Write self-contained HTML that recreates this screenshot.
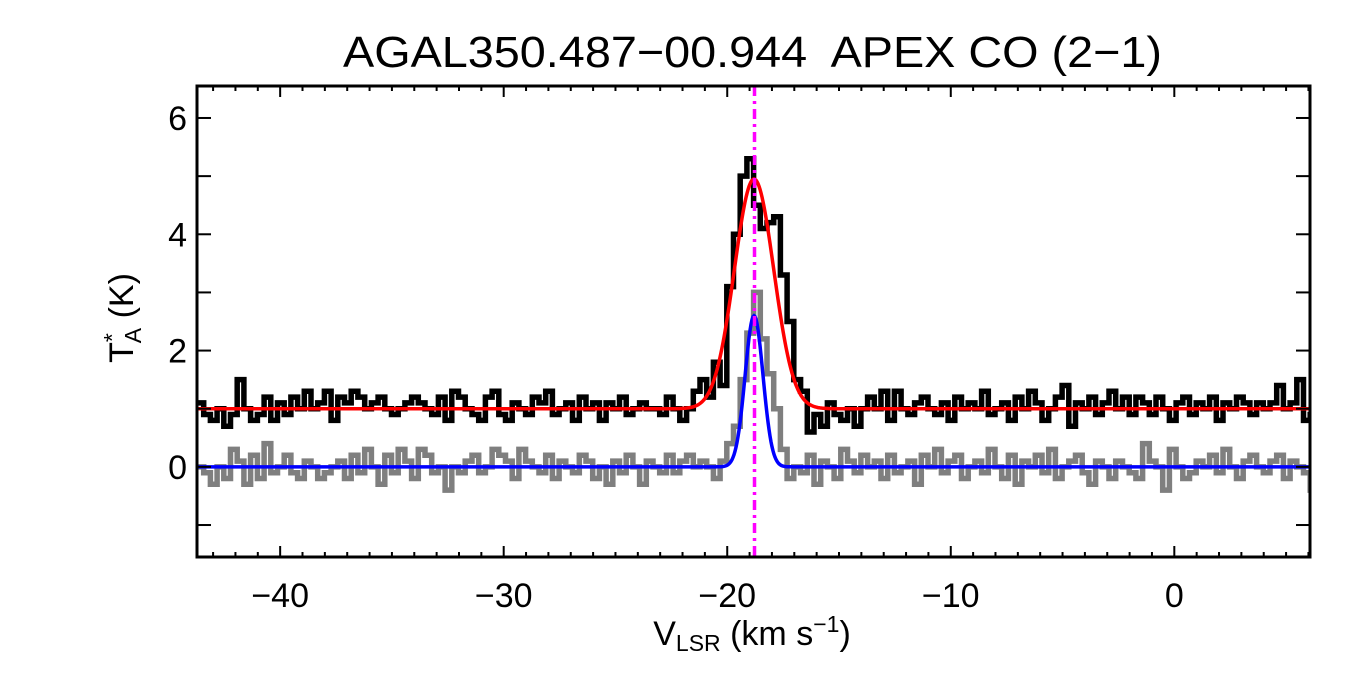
<!DOCTYPE html>
<html><head><meta charset="utf-8"><style>
html,body{margin:0;padding:0;background:#fff;width:1350px;height:675px;overflow:hidden}
svg text{font-family:"Liberation Sans",Arial,sans-serif;fill:#000}
</style></head><body>
<svg id="chart" width="1350" height="675" viewBox="0 0 1350 675" xmlns="http://www.w3.org/2000/svg">
<text x="343" y="67" font-size="44" textLength="819" lengthAdjust="spacingAndGlyphs" xml:space="preserve">AGAL350.487−00.944  APEX CO (2−1)</text>
<g id="plot"></g>
<g id="axes"></g>
<text x="752" y="645" font-size="34" text-anchor="middle">V<tspan font-size="23" dy="6">LSR</tspan><tspan dy="-6"> (km s</tspan><tspan font-size="23" dy="-13">−1</tspan><tspan dy="13">)</tspan></text>
<text transform="translate(133,318) rotate(-90)" font-size="34" text-anchor="middle">T<tspan font-size="23" dy="-13">*</tspan><tspan font-size="23" dx="-10" dy="21">A</tspan><tspan dy="-8"> (K)</tspan></text>
</svg>
<script>
const vStart = -43.72, dv = 0.3;
const blackSpec = [1.1,0.9,0.8,1.0,0.7,0.9,1.5,1.0,0.8,0.9,1.2,0.8,1.1,0.9,1.2,1.0,1.3,1.0,1.1,1.3,0.8,1.2,1.1,1.3,1.2,1.0,1.1,1.2,1.0,0.9,
1.0,1.1,1.2,1.1,1.0,0.9,1.2,0.8,1.3,1.2,1.0,0.9,0.8,1.2,1.3,0.9,0.8,1.1,1.0,0.9,1.2,1.1,1.3,0.9,1.0,1.1,0.8,1.2,1.0,1.1,
0.8,1.1,1.0,1.2,0.9,1.0,1.1,1.0,1.0,0.9,1.2,1.0,0.8,1.0,1.3,
1.5,1.2,1.8,1.4,3.1,4.0,5.0,5.3,4.5,4.1,4.2,4.3,3.3,2.5,1.5,1.3,0.6,0.9,
0.7,1.1,0.9,0.8,1.0,0.7,1.0,1.2,1.0,1.3,0.8,1.3,1.0,0.9,1.1,1.2,1.0,0.9,1.1,0.8,1.2,1.0,1.1,1.0,1.3,0.9,1.0,1.1,0.8,1.2,
1.0,1.3,1.1,0.8,1.0,1.2,1.4,0.7,1.1,1.0,1.2,0.9,1.1,1.3,1.0,1.2,0.9,1.2,1.1,0.9,1.2,1.0,0.8,1.1,1.2,0.9,1.1,1.0,1.2,0.8,
1.1,1.0,1.2,1.1,0.9,1.1,1.0,1.1,1.4,1.0,1.1,1.5,0.8,0.9];
const graySpec = [0.0,-0.1,-0.3,0.0,-0.2,0.3,0.1,-0.3,0.2,-0.2,0.4,-0.1,0.0,0.2,-0.1,-0.2,0.1,0.0,-0.2,-0.1,0.0,0.1,-0.2,0.2,-0.1,0.3,0.0,-0.3,0.2,-0.1,
0.3,0.1,-0.2,0.3,0.2,-0.1,0.0,-0.4,0.0,-0.1,0.1,0.2,-0.1,0.0,0.3,0.2,0.1,-0.2,0.3,0.1,0.0,-0.1,0.2,-0.2,0.1,0.0,-0.1,0.2,0.1,-0.2,
0.0,-0.3,0.1,-0.1,0.2,0.0,-0.3,0.1,0.0,-0.1,0.2,-0.1,0.1,0.2,0.0,
0.1,0.0,-0.2,0.1,0.4,0.7,1.5,2.3,3.0,2.2,1.6,1.0,0.3,-0.2,0.0,-0.1,0.2,-0.3,
0.1,0.0,-0.2,0.3,0.1,-0.1,0.2,0.0,0.1,-0.2,0.2,-0.1,0.0,0.1,-0.3,0.2,0.0,0.3,-0.1,0.1,0.2,-0.2,0.0,0.1,-0.1,0.3,0.0,-0.2,0.2,-0.3,
0.1,0.0,0.2,-0.1,0.3,-0.2,0.0,0.1,0.2,-0.1,-0.3,0.1,0.0,-0.2,0.1,0.0,-0.1,-0.2,0.4,0.1,0.0,-0.4,0.3,0.0,-0.2,-0.1,0.1,0.0,0.2,-0.1,
0.3,0.0,-0.2,0.1,0.2,0.0,-0.1,0.1,0.2,-0.2,0.1,0.0,-0.1,-0.4];
const redFit = [3.95, -18.8, 0.88, 1.0];   // amp, center, sigma, baseline
const blueFit = [2.6, -18.8, 0.4, 0.0];
const markerV = [-18.78];
const xTickVals = [-40,-30,-20,-10,0];
const xTickLabels = ["−40","−30","−20","−10","0"];
const yTickVals = [0,2,4,6];
const yTickLabels = ["0","2","4","6"];

const X0=197, X1=1310, Y0=86, Y1=557;
const xMin=-43.72, xMax=6.07, yMin=-1.55, yMax=6.55;
const xs = v => X0 + (v-xMin)/(xMax-xMin)*(X1-X0);
const ys = t => Y1 - (t-yMin)/(yMax-yMin)*(Y1-Y0);
const NS='http://www.w3.org/2000/svg';
const plot=document.getElementById('plot'), axes=document.getElementById('axes');
function mk(tag, attrs, parent){const e=document.createElementNS(NS,tag);for(const k in attrs)e.setAttribute(k,attrs[k]);parent.appendChild(e);return e;}

const clip=mk('clipPath',{id:'cp'},plot);
mk('rect',{x:X0,y:Y0,width:X1-X0,height:Y1-Y0},clip);
const g=mk('g',{'clip-path':'url(#cp)'},plot);

function histPath(arr){
  let d='';
  arr.forEach((t,i)=>{const a=xs(vStart+i*dv), b=xs(vStart+(i+1)*dv), y=ys(t);
    d += (i===0?'M':'L')+a.toFixed(1)+','+y.toFixed(1)+'L'+b.toFixed(1)+','+y.toFixed(1);});
  return d;
}
const gp=mk('path',{d:histPath(graySpec),fill:'none',stroke:'#7f7f7f','stroke-width':5.5,'stroke-linejoin':'miter'},g);


const bp=mk('path',{d:histPath(blackSpec),fill:'none',stroke:'#000','stroke-width':5.5,'stroke-linejoin':'miter'},g);



function gaussPath(p){
  let d='';
  for(let px=X0;px<=X1;px+=1){const v=xMin+(px-X0)/(X1-X0)*(xMax-xMin);
    const t=p[3]+p[0]*Math.exp(-0.5*Math.pow((v-p[1])/p[2],2));
    d+=(px===X0?'M':'L')+px+','+ys(t).toFixed(1);}
  return d;
}
const rp=mk('path',{d:gaussPath(redFit),fill:'none',stroke:'#ff0000','stroke-width':3.5},g);


const blp=mk('path',{d:gaussPath(blueFit),fill:'none',stroke:'#0000ff','stroke-width':3.5},g);


const ml=mk('line',{x1:xs(markerV[0]),x2:xs(markerV[0]),y1:Y0,y2:Y1,stroke:'#ff00ff','stroke-width':3.5,'stroke-dasharray':'10,5,3,5'},g);



const fr=mk('rect',{x:X0,y:Y0,width:X1-X0,height:Y1-Y0,fill:'none',stroke:'#000','stroke-width':3},axes);


for(let v=Math.ceil(xMin); v<=xMax; v++){
  const major = v%10===0, L = major?11:5, x=xs(v);
  const t1=mk('line',{x1:x,x2:x,y1:Y1,y2:Y1-L,stroke:'#000','stroke-width':2},axes);
  
  
  const t2=mk('line',{x1:x,x2:x,y1:Y0,y2:Y0+L,stroke:'#000','stroke-width':2},axes);
  
  
}
xTickVals.forEach((v,i)=>{const t=mk('text',{x:xs(v),y:607,'font-size':34,'text-anchor':'middle'},axes);t.textContent=xTickLabels[i];
  
  });
for(let v=Math.ceil(yMin); v<=yMax; v++){
  const y=ys(v);
  const t1=mk('line',{x1:X0,x2:X0+14,y1:y,y2:y,stroke:'#000','stroke-width':2},axes);
  
  
  const t2=mk('line',{x1:X1,x2:X1-14,y1:y,y2:y,stroke:'#000','stroke-width':2},axes);
  
  
}
yTickVals.forEach((v,i)=>{const t=mk('text',{x:187,y:ys(v)+12,'font-size':34,'text-anchor':'end'},axes);t.textContent=yTickLabels[i];
  
  });
</script>
</body></html>
